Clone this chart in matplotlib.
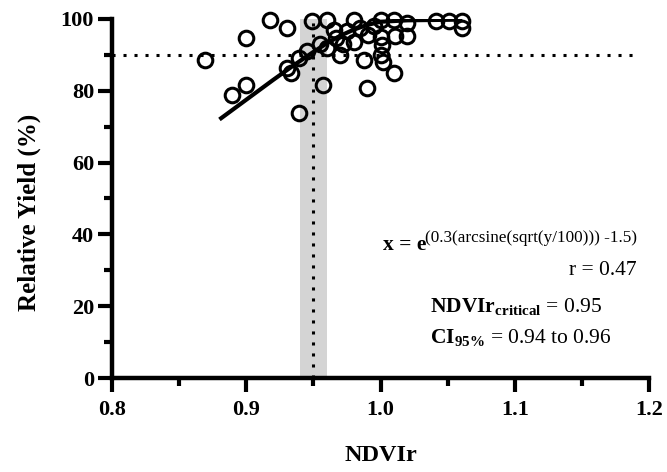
import matplotlib
matplotlib.use('Agg')
import matplotlib.pyplot as plt
from matplotlib.ticker import MultipleLocator

plt.rcParams['font.family'] = ['Liberation Serif', 'DejaVu Serif']
plt.rcParams['mathtext.fontset'] = 'custom'
plt.rcParams['mathtext.rm'] = 'Liberation Serif'
plt.rcParams['mathtext.bf'] = 'Liberation Serif:bold'

# observed data (NDVIr, relative yield %)
ndvi = [0.869, 0.889, 0.900, 0.900, 0.918, 0.930, 0.930, 0.933, 0.939, 0.945,
        0.939, 0.949, 0.957, 0.960, 0.967, 0.970, 0.980, 0.980, 0.988, 0.990,
        0.991, 1.000, 1.000, 1.001, 1.000, 1.002, 1.010, 1.011, 1.010, 1.020,
        1.020, 1.041, 1.051, 1.061, 1.061, 0.965, 0.975, 0.985, 0.995, 0.960,
        0.972, 0.955]
rel_yield = [88.6, 78.8, 81.6, 94.6, 99.7, 97.4, 86.3, 84.8, 89.0, 91.0,
             73.7, 99.3, 81.6, 99.7, 94.6, 90.0, 99.7, 93.7, 88.6, 80.7,
             95.5, 99.7, 95.0, 92.8, 90.0, 88.1, 99.7, 95.3, 84.8, 95.3,
             98.8, 99.3, 99.3, 99.3, 97.4, 97.0, 96.5, 97.5, 98.0, 92.0,
             93.0, 93.0]

# fitted curve
fit_x = [0.880, 0.900, 0.920, 0.935, 0.950, 0.960, 0.970, 0.980, 0.990, 1.000, 1.020, 1.061]
fit_y = [72.0, 77.5, 83.0, 87.0, 90.8, 93.2, 95.3, 97.0, 98.3, 99.2, 99.6, 99.8]

critical = 0.95
ci_low, ci_high = 0.94, 0.96
yield_level = 90

fig = plt.figure(figsize=(6.67, 4.72), dpi=100)
ax = fig.add_axes([0.168, 0.199, 0.805, 0.761])

# CI band and critical lines
ax.fill_between([ci_low, ci_high], 0, 100, color='#d4d4d4', linewidth=0, zorder=1)
ax.plot([critical, critical], [0, 99], color='black', linewidth=2.2,
        linestyle=(0, (1, 2.6)), zorder=2)
ax.plot([0.8, 1.192], [yield_level, yield_level], color='black', linewidth=2.2,
        linestyle=(0, (1, 2.6)), zorder=2, clip_on=False)

ax.plot(ndvi, rel_yield, 'o', markersize=10.5, markerfacecolor='none',
        markeredgecolor='black', markeredgewidth=2.2, zorder=3, clip_on=False)
ax.plot(fit_x, fit_y, color='black', linewidth=3, zorder=4, solid_capstyle='butt')

ax.set_xlim(0.8, 1.2)
ax.set_ylim(0, 100)
ax.xaxis.set_major_locator(MultipleLocator(0.1))
ax.xaxis.set_minor_locator(MultipleLocator(0.05))
ax.yaxis.set_major_locator(MultipleLocator(20))
ax.yaxis.set_minor_locator(MultipleLocator(10))
ax.set_xticks([0.8, 0.9, 1.0, 1.1, 1.2])
ax.set_xticklabels(['0.8', '0.9', '1.0', '1.1', '1.2'])

for side in ['top', 'right']:
    ax.spines[side].set_visible(False)
for side in ['left', 'bottom']:
    ax.spines[side].set_linewidth(3.2)
    ax.spines[side].set_capstyle('projecting')

ax.tick_params(which='major', length=10, width=3, direction='out')
ax.tick_params(which='minor', length=5.5, width=3, direction='out')
ax.tick_params(axis='x', which='major', pad=6)
ax.tick_params(axis='y', which='major', pad=3)
for lbl in ax.get_xticklabels() + ax.get_yticklabels():
    lbl.set_fontsize(16)
    lbl.set_fontweight('bold')

ax.set_xlabel('NDVIr', fontsize=17.5, fontweight='bold')
ax.set_ylabel('Relative Yield (%)', fontsize=18, fontweight='bold')
ax.xaxis.set_label_coords(0.5, -0.215)
ax.xaxis.label.set_va('center')
ax.yaxis.set_label_coords(-0.155, 0.46)
ax.yaxis.label.set_va('center')

W, H = 667.0, 472.0
fig.text(383 / W, (H - 250) / H, 'x = e', fontsize=15.5, fontweight='bold', va='baseline')
fig.text(425 / W, (H - 242) / H, '(0.3(arcsine(sqrt(y/100))) -1.5)', fontsize=12.3, va='baseline')
fig.text(637 / W, (H - 275) / H, 'r = 0.47', fontsize=15.5, ha='right', va='baseline')
fig.text(430 / W, (H - 312) / H, r'$\mathbf{NDVIr}_{\mathbf{critical}}$ = 0.95',
         fontsize=15.5, va='baseline')
fig.text(430 / W, (H - 343) / H, r'$\mathbf{CI}_{\mathbf{95\%}}$ = 0.94 to 0.96',
         fontsize=15.5, va='baseline')

fig.savefig('out.png', dpi=100)
